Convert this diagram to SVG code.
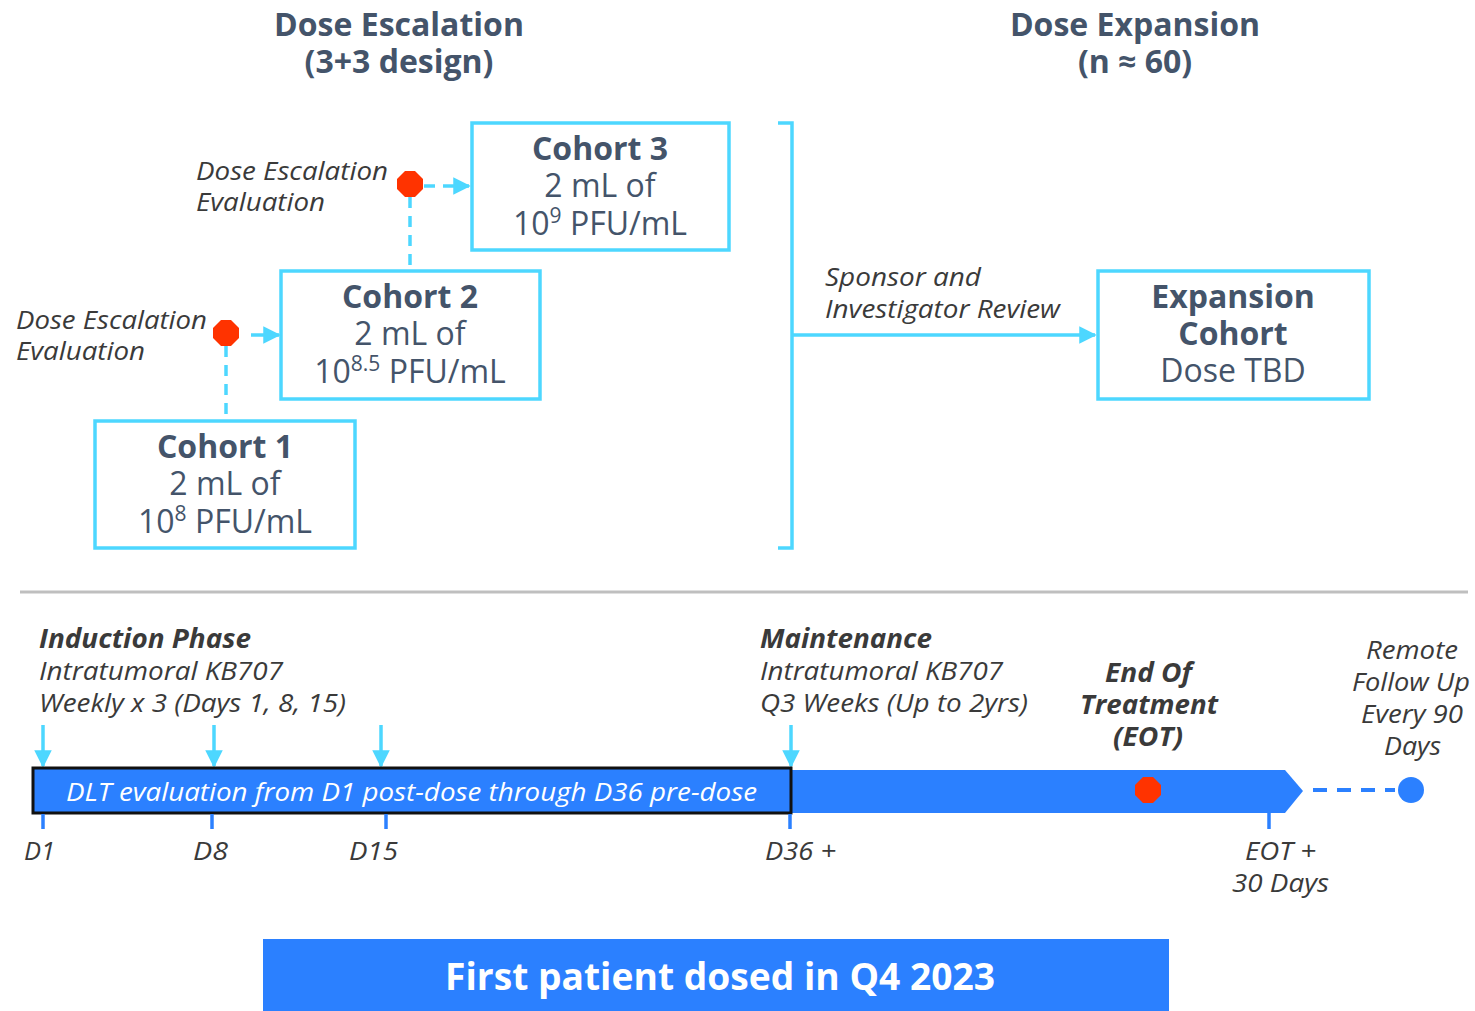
<svg xmlns="http://www.w3.org/2000/svg" width="1475" height="1011" viewBox="0 0 1475 1011">
<defs>
<style>
.t{font-family:"Open Sans","Liberation Sans",sans-serif;fill:#44546A}
.h{font-size:32px;font-weight:700;text-anchor:middle}
.cb{font-size:32px;font-weight:700;text-anchor:middle}
.cr{font-size:32px;font-weight:400;text-anchor:middle}
.it{font-family:"Open Sans","Liberation Sans",sans-serif;font-style:italic;font-size:26px;fill:#3a3a3a}
.box{fill:#fff;stroke:#4DD7FF;stroke-width:3.5}
.cy{stroke:#4DD7FF;stroke-width:3.5;fill:none}
.dash{stroke-dasharray:11 8}
.oct{fill:#FF3300}
.bl{fill:#2B80FF}
.tick{stroke:#2B80FF;stroke-width:3.5}
</style>
<marker id="ac" viewBox="0 0 10 10" refX="9" refY="5" markerWidth="5" markerHeight="5" markerUnits="strokeWidth" orient="auto"><path d="M0,0 L10,5 L0,10 z" fill="#4DD7FF"/></marker>
</defs>
<rect width="1475" height="1011" fill="#fff"/>

<g id="titles">
<text class="t h" x="399" y="36">Dose Escalation</text>
<text class="t h" x="399" y="73">(3+3 design)</text>
<text class="t h" x="1135" y="36">Dose Expansion</text>
<text class="t h" x="1135" y="73">(n ≈ 60)</text>
</g>

<g id="connectors">
<line class="cy dash" x1="410" y1="197" x2="410" y2="271"/>
<line class="cy dash" x1="424" y1="186" x2="469" y2="186" marker-end="url(#ac)"/>
<line class="cy dash" x1="226" y1="346" x2="226" y2="421"/>
<line class="cy" x1="251" y1="335" x2="279" y2="335" marker-end="url(#ac)"/>
<path class="cy" d="M778,123 H792 V548 H778"/>
<line class="cy" x1="792" y1="335" x2="1095" y2="335" marker-end="url(#ac)"/>
<line x1="43" y1="725" x2="43" y2="766" class="cy" marker-end="url(#ac)"/>
<line x1="214" y1="725" x2="214" y2="766" class="cy" marker-end="url(#ac)"/>
<line x1="381" y1="725" x2="381" y2="766" class="cy" marker-end="url(#ac)"/>
<line x1="791" y1="725" x2="791" y2="766" class="cy" marker-end="url(#ac)"/>
</g>

<g id="cohort3">
<rect class="box" x="472" y="123" width="257" height="127"/>
<text class="t cb" x="600" y="160">Cohort 3</text>
<text class="t cr" x="600" y="197">2 mL of</text>
<text class="t cr" x="600" y="235">10<tspan font-size="21" dy="-12">9</tspan><tspan dy="12"> PFU/mL</tspan></text>
</g>
<g id="cohort2">
<rect class="box" x="281" y="271" width="259" height="128"/>
<text class="t cb" x="410" y="308">Cohort 2</text>
<text class="t cr" x="410" y="345">2 mL of</text>
<text class="t cr" x="410" y="383">10<tspan font-size="21" dy="-12">8.5</tspan><tspan dy="12"> PFU/mL</tspan></text>
</g>
<g id="cohort1">
<rect class="box" x="95" y="421" width="260" height="127"/>
<text class="t cb" x="225" y="458">Cohort 1</text>
<text class="t cr" x="225" y="495">2 mL of</text>
<text class="t cr" x="225" y="533">10<tspan font-size="21" dy="-12">8</tspan><tspan dy="12"> PFU/mL</tspan></text>
</g>
<g id="expansion">
<rect class="box" x="1098" y="271" width="271" height="128"/>
<text class="t cb" x="1233" y="308">Expansion</text>
<text class="t cb" x="1233" y="345">Cohort</text>
<text class="t cr" x="1233" y="382">Dose TBD</text>
</g>

<g id="eval3">
<polygon class="oct" points="405,171 415,171 423,179 423,189 415,197 405,197 397,189 397,179"/>
<text class="it" x="196" y="180" textLength="192" lengthAdjust="spacingAndGlyphs">Dose Escalation</text>
<text class="it" x="196" y="211" textLength="129" lengthAdjust="spacingAndGlyphs">Evaluation</text>
</g>
<g id="eval2">
<polygon class="oct" points="221,320 231,320 239,328 239,338 231,346 221,346 213,338 213,328"/>
<text class="it" x="16" y="329" textLength="191" lengthAdjust="spacingAndGlyphs">Dose Escalation</text>
<text class="it" x="16" y="360" textLength="129" lengthAdjust="spacingAndGlyphs">Evaluation</text>
</g>
<g id="review">
<text class="it" x="825" y="286" textLength="156" lengthAdjust="spacingAndGlyphs">Sponsor and</text>
<text class="it" x="825" y="318" textLength="235" lengthAdjust="spacingAndGlyphs">Investigator Review</text>
</g>

<line x1="20" y1="592" x2="1468" y2="592" stroke="#BFBFBF" stroke-width="3"/>

<g id="induction">
<text class="it" x="39" y="648" font-weight="700" textLength="212" lengthAdjust="spacingAndGlyphs">Induction Phase</text>
<text class="it" x="39" y="680" textLength="244" lengthAdjust="spacingAndGlyphs">Intratumoral KB707</text>
<text class="it" x="39" y="712" textLength="307" lengthAdjust="spacingAndGlyphs">Weekly x 3 (Days 1, 8, 15)</text>
</g>
<g id="maintenance">
<text class="it" x="760" y="648" font-weight="700" textLength="172" lengthAdjust="spacingAndGlyphs">Maintenance</text>
<text class="it" x="760" y="680" textLength="243" lengthAdjust="spacingAndGlyphs">Intratumoral KB707</text>
<text class="it" x="760" y="712" textLength="268" lengthAdjust="spacingAndGlyphs">Q3 Weeks (Up to 2yrs)</text>
</g>

<g id="timeline">
<polygon class="bl" points="33,770 1285,770 1303,791 1285,813 33,813"/>
<rect x="33" y="768" width="758" height="45" fill="#2B80FF" stroke="#111" stroke-width="3"/>
<text class="it" x="66" y="801" style="fill:#fff" textLength="691" lengthAdjust="spacingAndGlyphs">DLT evaluation from D1 post-dose through D36 pre-dose</text>
<line class="tick" x1="43" y1="814" x2="43" y2="829"/>
<line class="tick" x1="212" y1="814" x2="212" y2="829"/>
<line class="tick" x1="386" y1="814" x2="386" y2="829"/>
<line class="tick" x1="790" y1="814" x2="790" y2="829"/>
<line class="tick" x1="1269" y1="813" x2="1269" y2="829"/>
<text class="it" x="24" y="860" textLength="31" lengthAdjust="spacingAndGlyphs">D1</text>
<text class="it" x="193" y="860" textLength="35" lengthAdjust="spacingAndGlyphs">D8</text>
<text class="it" x="349" y="860" textLength="49" lengthAdjust="spacingAndGlyphs">D15</text>
<text class="it" x="765" y="860" textLength="71" lengthAdjust="spacingAndGlyphs">D36 +</text>
<text class="it" x="1245" y="860" textLength="71" lengthAdjust="spacingAndGlyphs">EOT +</text>
<text class="it" x="1232" y="892" textLength="97" lengthAdjust="spacingAndGlyphs">30 Days</text>
</g>

<g id="eot">
<polygon class="oct" points="1143,777 1153,777 1161,785 1161,795 1153,803 1143,803 1135,795 1135,785"/>
<text class="it" x="1105" y="682" font-weight="700" textLength="87" lengthAdjust="spacingAndGlyphs">End Of</text>
<text class="it" x="1080" y="714" font-weight="700" textLength="138" lengthAdjust="spacingAndGlyphs">Treatment</text>
<text class="it" x="1113" y="746" font-weight="700" textLength="70" lengthAdjust="spacingAndGlyphs">(EOT)</text>
</g>

<g id="followup">
<line x1="1313" y1="790" x2="1395" y2="790" stroke="#2B80FF" stroke-width="4" stroke-dasharray="14 10"/>
<circle class="bl" cx="1411" cy="790" r="13"/>
<text class="it" x="1366" y="659" textLength="92" lengthAdjust="spacingAndGlyphs">Remote</text>
<text class="it" x="1352" y="691" textLength="118" lengthAdjust="spacingAndGlyphs">Follow Up</text>
<text class="it" x="1361" y="723" textLength="102" lengthAdjust="spacingAndGlyphs">Every 90</text>
<text class="it" x="1384" y="755" textLength="57" lengthAdjust="spacingAndGlyphs">Days</text>
</g>

<g id="banner">
<rect class="bl" x="263" y="939" width="906" height="72"/>
<text x="445" y="990" font-family="Open Sans, Liberation Sans, sans-serif" font-weight="700" font-size="37" fill="#fff" textLength="550" lengthAdjust="spacingAndGlyphs">First patient dosed in Q4 2023</text>
</g>
</svg>
